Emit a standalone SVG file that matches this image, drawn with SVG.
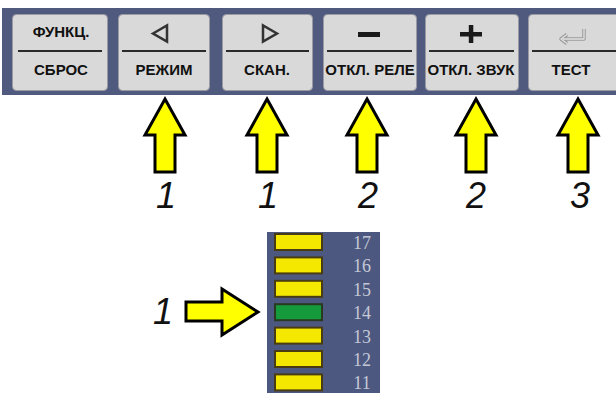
<svg xmlns="http://www.w3.org/2000/svg" width="616" height="393" viewBox="0 0 616 393">
<style>
.btn{fill:#d9d9d9;stroke:#9a9aa4;stroke-width:1}
.div{stroke:#2a2a2a;stroke-width:2}
.lbl{font-family:"Liberation Sans",Arial,sans-serif;font-weight:bold;font-size:15px;fill:#111;text-anchor:middle}
.arr{fill:#ffff00;stroke:#000;stroke-width:3;stroke-linejoin:miter}
.num{font-family:"Liberation Sans",Arial,sans-serif;font-style:italic;font-size:36px;fill:#111;text-anchor:middle}
.bar{fill:#f4e800;stroke:#4a3c12;stroke-width:2}
.lvl{font-family:"Liberation Serif",serif;font-size:18px;fill:#c4c8d6;text-anchor:middle}
</style>
<rect x="2" y="8" width="614" height="87" fill="#4f5a7e"/>
<g id="btn-func">
<rect class="btn" x="12.5" y="14.5" width="95" height="76" rx="4"/>
<line class="div" x1="18" y1="51" x2="102" y2="51"/>
<text class="lbl" x="61" y="37">ФУНКЦ.</text>
<text class="lbl" x="61" y="75">СБРОС</text>
</g>
<g id="btn-mode">
<rect class="btn" x="118.5" y="14.5" width="91" height="76" rx="4"/>
<line class="div" x1="122" y1="51" x2="206" y2="51"/>
<path d="M153 33.5 L167 25.5 L167 41.5 Z" fill="none" stroke="#333" stroke-width="2.5" stroke-linejoin="miter"/>
<text class="lbl" x="164" y="75">РЕЖИМ</text>
</g>
<g id="btn-scan">
<rect class="btn" x="222.5" y="14.5" width="90" height="76" rx="4"/>
<line class="div" x1="226" y1="51" x2="309" y2="51"/>
<path d="M277 33.5 L263 25.5 L263 41.5 Z" fill="none" stroke="#333" stroke-width="2.5" stroke-linejoin="miter"/>
<text class="lbl" x="267" y="75">СКАН.</text>
</g>
<g id="btn-relay">
<rect class="btn" x="323.5" y="14.5" width="93" height="76" rx="4"/>
<line class="div" x1="327" y1="51" x2="412" y2="51"/>
<rect x="358" y="32" width="22" height="5" fill="#1a1a1a"/>
<text class="lbl" x="370" y="75">ОТКЛ. РЕЛЕ</text>
</g>
<g id="btn-sound">
<rect class="btn" x="425.5" y="14.5" width="93" height="76" rx="4"/>
<line class="div" x1="429" y1="51" x2="514" y2="51"/>
<rect x="460" y="32" width="22" height="4.5" fill="#1a1a1a"/>
<rect x="468.8" y="25" width="4.5" height="18" fill="#1a1a1a"/>
<text class="lbl" x="471" y="75">ОТКЛ. ЗВУК</text>
</g>
<g id="btn-test">
<rect class="btn" x="528.5" y="14.5" width="92" height="76" rx="4"/>
<line class="div" x1="532" y1="51" x2="616" y2="51"/>
<path d="M584 29 V39 H563 M567 34.5 L561 39 L567 43.5" fill="none" stroke="#9a9a9a" stroke-width="3.5" stroke-linejoin="round"/>
<path d="M584 29 V39 H563 M567 34.5 L561 39 L567 43.5" fill="none" stroke="#e4e4e4" stroke-width="1.3" stroke-linejoin="round"/>
<text class="lbl" x="571" y="75">ТЕСТ</text>
</g>
<g id="connectors">
<path class="arr" d="M165 99 L185 135 L175 135 L175 172 L155 172 L155 135 L145 135 Z"/>
<path class="arr" d="M267 99 L287 135 L277 135 L277 172 L257 172 L257 135 L247 135 Z"/>
<path class="arr" d="M367 99 L387 135 L377 135 L377 172 L357 172 L357 135 L347 135 Z"/>
<path class="arr" d="M476 99 L496 135 L486 135 L486 172 L466 172 L466 135 L456 135 Z"/>
<path class="arr" d="M578 99 L598 135 L588 135 L588 172 L568 172 L568 135 L558 135 Z"/>
<path class="arr" d="M258 312 L222 289 L222 302 L186 302 L186 321 L222 321 L222 335 Z"/>
</g>
<g id="labels">
<text class="num" x="166" y="208">1</text>
<text class="num" x="268" y="208">1</text>
<text class="num" x="368" y="208">2</text>
<text class="num" x="476" y="208">2</text>
<text class="num" x="580" y="208">3</text>
<text class="num" x="163" y="324">1</text>
</g>
<g id="level-scale">
<rect x="267" y="232" width="113" height="161" fill="#4d5880"/>
<rect class="bar" x="275" y="234" width="47" height="16"/>
<rect class="bar" x="275" y="257.4" width="47" height="16"/>
<rect class="bar" x="275" y="280.8" width="47" height="16"/>
<rect x="275" y="304.2" width="47" height="16" fill="#159a3c" stroke="#2a3a20" stroke-width="2"/>
<rect class="bar" x="275" y="327.6" width="47" height="16"/>
<rect class="bar" x="275" y="351" width="47" height="16"/>
<rect class="bar" x="275" y="374.4" width="47" height="16"/>
<text class="lvl" x="362" y="249">17</text>
<text class="lvl" x="362" y="272.4">16</text>
<text class="lvl" x="362" y="295.8">15</text>
<text class="lvl" x="362" y="319.2">14</text>
<text class="lvl" x="362" y="342.6">13</text>
<text class="lvl" x="362" y="366">12</text>
<text class="lvl" x="362" y="389.4">11</text>
</g>
</svg>
